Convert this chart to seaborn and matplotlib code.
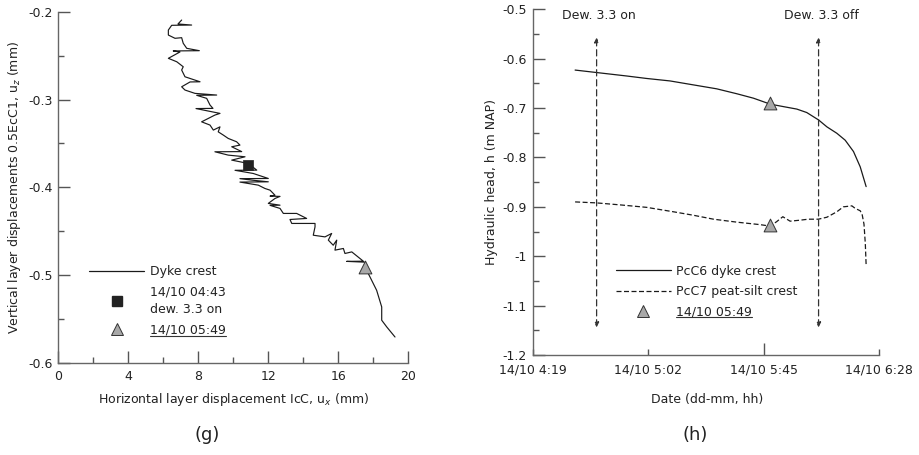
import numpy as np
import pandas as pd
import matplotlib
matplotlib.use("Agg")
import matplotlib.pyplot as plt
import matplotlib.dates as mdates
from matplotlib.lines import Line2D
from matplotlib.ticker import MultipleLocator, FuncFormatter
import seaborn as sns

# ---------------- panel (g): layer displacements ----------------
ux_mm = [7.05, 6.84, 7.62, 6.48, 6.29, 6.29, 6.67, 7.05, 7.14, 7.34, 8.06, 6.57,
         6.95, 6.29, 6.77, 7.14, 7.05, 7.24, 8.10, 7.53, 7.05, 7.24, 7.81, 9.05,
         7.91, 8.48, 8.67, 8.84, 7.87, 9.24, 8.95, 8.19, 8.67, 8.86, 9.24, 9.14,
         9.43, 9.71, 10.19, 10.38, 9.91, 10.48, 8.95, 9.71, 10.67, 9.91, 10.86,
         11.34, 10.10, 11.14, 12.00, 10.38, 11.07, 12.00, 10.38, 11.43, 11.81,
         12.10, 12.38, 12.10, 12.67, 12.38, 12.00, 12.67, 12.10, 12.67, 12.86,
         13.62, 14.19, 13.24, 13.34, 14.67, 14.67, 14.57, 15.24, 15.62, 15.43,
         15.71, 15.91, 15.81, 16.29, 16.38, 16.77, 17.43, 16.48, 17.53, 17.53,
         17.81, 18.19, 18.48, 18.48, 18.77, 19.24]
uz_mm = [-0.2095, -0.2140, -0.2152, -0.2155, -0.2209, -0.2266, -0.2303, -0.2296,
         -0.2360, -0.2417, -0.2444, -0.2447, -0.2459, -0.2531, -0.2570, -0.2627,
         -0.2664, -0.2741, -0.2798, -0.2800, -0.2855, -0.2892, -0.2930, -0.2949,
         -0.2952, -0.2987, -0.3063, -0.3101, -0.3103, -0.3158, -0.3177, -0.3254,
         -0.3291, -0.3348, -0.3311, -0.3368, -0.3405, -0.3443, -0.3481, -0.3519,
         -0.3538, -0.3593, -0.3595, -0.3633, -0.3652, -0.3690, -0.3728, -0.3804,
         -0.3806, -0.3842, -0.3899, -0.3901, -0.3918, -0.3937, -0.3940, -0.3975,
         -0.4013, -0.4032, -0.4089, -0.4100, -0.4103, -0.4127, -0.4183, -0.4203,
         -0.4205, -0.4240, -0.4297, -0.4297, -0.4354, -0.4366, -0.4411, -0.4411,
         -0.4450, -0.4545, -0.4564, -0.4525, -0.4601, -0.4659, -0.4601, -0.4715,
         -0.4696, -0.4753, -0.4735, -0.4841, -0.4843, -0.4852, -0.4909, -0.5020,
         -0.5172, -0.5362, -0.5513, -0.5590, -0.5704]
dew_on_point = (10.86, -0.3746)
t0549_point = (17.53, -0.491)

# ---------------- panel (h): hydraulic heads ----------------
day = "2012-10-14 "
pcc6_times = ["04:34:48", "04:42:48", "04:54:00", "05:01:24", "05:10:06", "05:18:48",
              "05:27:30", "05:35:00", "05:41:12", "05:47:24", "05:52:18", "05:57:18",
              "06:01:00", "06:05:24", "06:08:30", "06:12:12", "06:15:18", "06:18:24",
              "06:20:54", "06:23:06"]
pcc6_head = [-0.623, -0.628, -0.635, -0.640, -0.645, -0.653, -0.661, -0.671, -0.680,
             -0.692, -0.697, -0.702, -0.709, -0.724, -0.738, -0.751, -0.765, -0.788,
             -0.819, -0.859]
pcc7_times = ["04:34:48", "04:42:48", "04:51:30", "05:01:24", "05:11:24", "05:18:48",
              "05:26:18", "05:35:00", "05:43:36", "05:47:24", "05:49:48", "05:52:06",
              "05:54:48", "05:58:30", "06:01:36", "06:05:18", "06:08:30", "06:12:12",
              "06:14:36", "06:17:48", "06:19:00", "06:20:54", "06:21:36", "06:22:18",
              "06:22:48", "06:23:06"]
pcc7_head = [-0.890, -0.892, -0.896, -0.901, -0.910, -0.917, -0.925, -0.931, -0.936,
             -0.939, -0.930, -0.920, -0.929, -0.927, -0.925, -0.925, -0.921, -0.910,
             -0.900, -0.898, -0.903, -0.908, -0.915, -0.935, -0.975, -1.018]
marker_time = "05:47:24"
marker_heads = [-0.690, -0.937]
dew_times = ["04:42:48", "06:05:24"]
dew_labels = ["Dew. 3.3 on", "Dew. 3.3 off"]
arrow_top, arrow_bottom = -0.557, -1.144
xtick_times = ["04:19", "05:02", "05:45", "06:28"]

# ---------------- style ----------------
sns.set_style("ticks")
plt.rcParams.update({
    "font.family": ["DejaVu Sans"],
    "font.size": 9,
    "axes.unicode_minus": False,
    "axes.edgecolor": "#666666",
    "axes.linewidth": 1.0,
    "xtick.color": "#555555",
    "ytick.color": "#555555",
    "xtick.labelcolor": "#222222",
    "ytick.labelcolor": "#222222",
    "text.color": "#222222",
    "axes.labelcolor": "#222222",
})

LINE = "#1a1a1a"
TRI_FACE = "#a8a8a8"
TRI_EDGE = "#333333"

fig = plt.figure(figsize=(9.19, 4.55), dpi=100)
axg = fig.add_axes([0.0634, 0.2022, 0.3809, 0.7721])
axh = fig.add_axes([0.5796, 0.2198, 0.3772, 0.7597])

for ax in (axg, axh):
    sns.despine(ax=ax)
    ax.tick_params(which="both", direction="in", width=1.0)

gfmt = FuncFormatter(lambda v, p: f"{v:g}")

# ---- panel g ----
dg = pd.DataFrame({"ux": ux_mm, "uz": uz_mm})
sns.lineplot(data=dg, x="ux", y="uz", ax=axg, sort=False, estimator=None,
             color=LINE, lw=0.85)
sns.scatterplot(x=[dew_on_point[0]], y=[dew_on_point[1]], ax=axg, marker="s", s=60,
                color="#222222", edgecolor="#222222", linewidth=0.5, zorder=5)
sns.scatterplot(x=[t0549_point[0]], y=[t0549_point[1]], ax=axg, marker="^", s=85,
                color=TRI_FACE, edgecolor=TRI_EDGE, linewidth=0.7, zorder=5)
axg.set_xlim(0, 20)
axg.set_ylim(-0.6, -0.2)
axg.xaxis.set_major_locator(MultipleLocator(4))
axg.xaxis.set_minor_locator(MultipleLocator(2))
axg.yaxis.set_major_locator(MultipleLocator(0.1))
axg.yaxis.set_minor_locator(MultipleLocator(0.05))
axg.xaxis.set_major_formatter(gfmt)
axg.yaxis.set_major_formatter(gfmt)
axg.tick_params(which="major", length=8.5)
axg.tick_params(which="minor", length=4.5)
axg.tick_params(axis="x", pad=5)
axg.tick_params(axis="y", pad=4)
axg.set_xlabel(r"Horizontal layer displacement IcC, u$_x$ (mm)")
axg.set_ylabel(r"Vertical layer displacements 0.5EcC1, u$_z$ (mm)")
axg.xaxis.set_label_coords(0.5, -0.08)
axg.yaxis.set_label_coords(-0.101, 0.5)

hg = [Line2D([], [], color=LINE, lw=0.9),
      Line2D([], [], ls="none", marker="s", ms=7.5, color="#222222"),
      Line2D([], [], ls="none", marker="^", ms=9, markerfacecolor=TRI_FACE,
             markeredgecolor=TRI_EDGE, markeredgewidth=0.7)]
legg = axg.legend(hg, ["Dyke crest", "14/10 04:43\ndew. 3.3 on", "14/10 05:49"],
                  loc="upper left", bbox_to_anchor=(0.088, 0.279), frameon=False,
                  handlelength=4.4, handletextpad=0.45, labelspacing=0.62,
                  borderpad=0, borderaxespad=0, fontsize=9)
for t in legg.get_texts():
    t.set_linespacing(1.42)

# ---- panel h ----
dh6 = pd.DataFrame({"t": pd.to_datetime([day + s for s in pcc6_times]), "h": pcc6_head})
dh7 = pd.DataFrame({"t": pd.to_datetime([day + s for s in pcc7_times]), "h": pcc7_head})
sns.lineplot(data=dh6, x="t", y="h", ax=axh, color=LINE, lw=0.9)
sns.lineplot(data=dh7, x="t", y="h", ax=axh, color=LINE, lw=0.9,
             linestyle=(0, (4, 2)))
mt = pd.to_datetime(day + marker_time)
sns.scatterplot(x=[mt, mt], y=marker_heads, ax=axh, marker="^", s=85,
                color=TRI_FACE, edgecolor=TRI_EDGE, linewidth=0.7, zorder=5)

for ts, lab in zip(dew_times, dew_labels):
    t = pd.to_datetime(day + ts)
    axh.annotate("", xy=(t, arrow_top), xytext=(t, arrow_bottom),
                 arrowprops=dict(arrowstyle="<|-|>", linestyle=(0, (5, 3)), lw=0.9,
                                 color="#333333", mutation_scale=7,
                                 shrinkA=0, shrinkB=0))
    axh.text(t + pd.Timedelta(minutes=1), -0.512, lab, ha="center", va="center",
             fontsize=9)

xt = pd.to_datetime([day + s for s in xtick_times])
axh.set_xlim(xt[0], xt[-1])
axh.set_ylim(-1.2, -0.5)
axh.set_xticks(xt)
axh.xaxis.set_major_formatter(mdates.DateFormatter("%d/%m %-H:%M"))
axh.yaxis.set_major_locator(MultipleLocator(0.1))
axh.yaxis.set_minor_locator(MultipleLocator(0.05))
axh.yaxis.set_major_formatter(gfmt)
axh.tick_params(axis="y", which="major", length=8.5, pad=4)
axh.tick_params(axis="y", which="minor", length=4.5)
axh.tick_params(axis="x", which="major", length=4.5, pad=6)
axh.xaxis.get_major_ticks()[2].tick1line.set_markersize(8.5)
axh.set_xlabel("Date (dd-mm, hh)")
axh.set_ylabel("Hydraulic head, h (m NAP)")
axh.xaxis.set_label_coords(0.503, -0.11)
axh.yaxis.set_label_coords(-0.1, 0.5)

hh = [Line2D([], [], color=LINE, lw=0.9),
      Line2D([], [], color=LINE, lw=0.9, linestyle=(0, (4, 2))),
      Line2D([], [], ls="none", marker="^", ms=9, markerfacecolor=TRI_FACE,
             markeredgecolor=TRI_EDGE, markeredgewidth=0.7)]
legh = axh.legend(hh, ["PcC6 dyke crest", "PcC7 peat-silt crest", "14/10 05:49"],
                  loc="upper left", bbox_to_anchor=(0.24, 0.261), frameon=False,
                  handlelength=4.4, handletextpad=0.45, labelspacing=0.58,
                  borderpad=0, borderaxespad=0, fontsize=9)

fig.text(207 / 919, 1 - 435 / 455, "(g)", ha="center", va="center", fontsize=13)
fig.text(695 / 919, 1 - 435 / 455, "(h)", ha="center", va="center", fontsize=13)

# underline the date label in both legends
fig.canvas.draw()
r = fig.canvas.get_renderer()
inv = fig.transFigure.inverted()
for leg in (legg, legh):
    txt = leg.get_texts()[-1]
    bb = txt.get_window_extent(r)
    (x0, y0), (x1, _) = inv.transform([[bb.x0, bb.y0 + 1], [bb.x1, bb.y0 + 1]])
    fig.add_artist(Line2D([x0, x1], [y0, y0], transform=fig.transFigure,
                          color="#333333", lw=0.8))

fig.savefig("out.png", dpi=100)
